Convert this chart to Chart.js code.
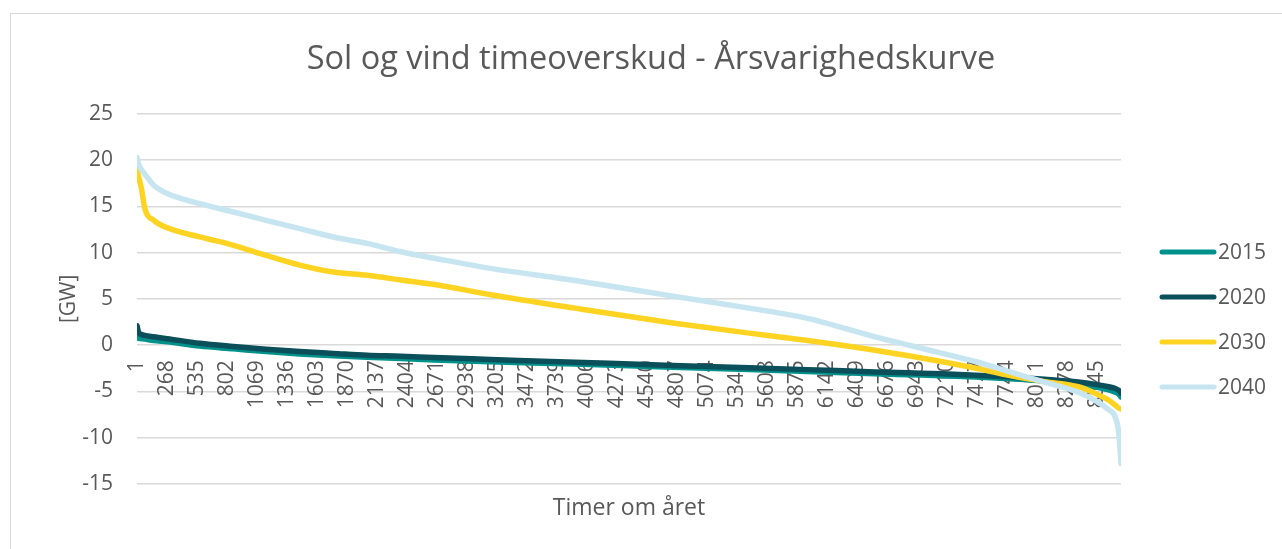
<!DOCTYPE html>
<html><head><meta charset="utf-8">
<script src="https://cdn.jsdelivr.net/npm/chart.js@4.4.1/dist/chart.umd.min.js"></script>
<style>
html,body{margin:0;padding:0;background:#fff;overflow:hidden;}
#wrap{position:relative;width:1282px;height:549px;overflow:hidden;}
#frame{position:absolute;left:10px;top:13px;width:1300px;height:600px;border:1px solid #D9D9D9;box-sizing:border-box;}
canvas{position:absolute;left:0;top:0;}
</style></head><body>
<div id="wrap"><div id="frame"></div><canvas id="c" width="1282" height="549"></canvas></div>
<script>
const chartTitle = 'Sol og vind timeoverskud - Årsvarighedskurve';
const seriesNames = ['2015', '2020', '2030', '2040'];
const seriesColors = ['#00918B', '#0B4F5B', '#FFD322', '#C6E5F1'];
const hours = [1, 15, 40, 70, 150, 270, 560, 860, 1150, 1450, 1750, 2050, 2350, 2650, 3150, 3900, 4770, 5450, 5970, 6570, 6870, 7170, 7470, 7770, 8080, 8380, 8560, 8650, 8710, 8740, 8760];
const gw2015 = [0.9, 0.75, 0.7, 0.65, 0.5, 0.35, -0.1, -0.4, -0.7, -0.95, -1.15, -1.3, -1.45, -1.6, -1.8, -2.05, -2.4, -2.65, -2.85, -3.1, -3.2, -3.3, -3.45, -3.65, -3.9, -4.25, -4.6, -4.85, -5.1, -5.3, -5.6];
const gw2020 = [2.1, 1.4, 1.15, 1.05, 0.9, 0.7, 0.2, -0.15, -0.45, -0.7, -0.9, -1.1, -1.2, -1.35, -1.55, -1.85, -2.2, -2.45, -2.65, -2.9, -3.0, -3.1, -3.25, -3.45, -3.7, -4.0, -4.3, -4.5, -4.7, -4.9, -5.2];
const gw2030 = [19.0, 18.2, 17.0, 14.8, 13.5, 12.7, 11.7, 10.8, 9.7, 8.65, 7.9, 7.55, 7.05, 6.55, 5.45, 4.0, 2.4, 1.3, 0.5, -0.55, -1.15, -1.8, -2.5, -3.3, -3.95, -4.5, -5.4, -5.95, -6.5, -6.8, -6.9];
const gw2040 = [20.3, 19.6, 19.0, 18.5, 17.3, 16.4, 15.3, 14.4, 13.5, 12.6, 11.7, 11.0, 10.1, 9.4, 8.3, 7.0, 5.3, 4.0, 2.9, 0.9, 0.0, -0.9, -1.8, -2.9, -4.0, -5.1, -6.2, -7.0, -7.8, -9.5, -12.8];
const xTickLabels = [1, 268, 535, 802, 1069, 1336, 1603, 1870, 2137, 2404, 2671, 2938, 3205, 3472, 3739, 4006, 4273, 4540, 4807, 5074, 5341, 5608, 5875, 6142, 6409, 6676, 6943, 7210, 7477, 7744, 8011, 8278, 8545];
const yTickLabels = [-15, -10, -5, 0, 5, 10, 15, 20, 25];

const allValues = [gw2015, gw2020, gw2030, gw2040];
const FONT = 'Open Sans';
const TXT = '#595959';

const titlePlugin = {
  id: 'centredTitle',
  afterDraw(chart) {
    const ctx = chart.ctx;
    ctx.save();
    ctx.fillStyle = TXT;
    ctx.font = '32.5px "' + FONT + '"';
    ctx.textAlign = 'center';
    ctx.textBaseline = 'middle';
    ctx.fillText(chartTitle, 651, 60);
    ctx.restore();
  }
};

const legendPlugin = {
  id: 'sideLegend',
  afterDraw(chart) {
    const ctx = chart.ctx;
    const top = 252, gap = 45;
    chart.data.datasets.forEach((ds, i) => {
      const y = top + i * gap;
      ctx.save();
      ctx.strokeStyle = ds.borderColor;
      ctx.lineWidth = 5;
      ctx.lineCap = 'round';
      ctx.beginPath();
      ctx.moveTo(1162, y);
      ctx.lineTo(1214, y);
      ctx.stroke();
      ctx.fillStyle = TXT;
      ctx.font = '21px "' + FONT + '"';
      ctx.textBaseline = 'middle';
      ctx.textAlign = 'left';
      ctx.fillText(ds.label, 1218, y + 1);
      ctx.restore();
    });
  }
};

new Chart(document.getElementById('c'), {
  type: 'line',
  data: {
    datasets: seriesNames.map((n, i) => ({
      label: n,
      data: hours.map((h, j) => ({ x: h, y: allValues[i][j] })),
      borderColor: seriesColors[i],
      backgroundColor: seriesColors[i],
      borderWidth: 5.5,
      pointRadius: 0,
      cubicInterpolationMode: 'monotone',
      borderCapStyle: 'round',
      borderJoinStyle: 'round',
      fill: false,
      order: 4 - i,
      xAxisID: 'x',
      yAxisID: 'y'
    }))
  },
  options: {
    responsive: false,
    animation: false,
    layout: { padding: { left: 50, right: 161, top: 114, bottom: 0 } },
    plugins: {
      legend: { display: false },
      tooltip: { enabled: false },
      title: { display: false }
    },
    scales: {
      x: {
        type: 'linear',
        min: 1, max: 8760,
        position: { y: 0 },
        grid: { display: false, drawTicks: false },
        border: { display: false },
        afterBuildTicks: s => { s.ticks = xTickLabels.map(v => ({ value: v })); },
        ticks: {
          autoSkip: false, minRotation: 90, maxRotation: 90, padding: 15,
          color: TXT, font: { family: FONT, size: 21 },
          callback: v => String(v)
        }
      },
      xt: {
        type: 'linear',
        position: 'bottom',
        grid: { display: false, drawTicks: false },
        border: { display: false },
        ticks: { display: false },
        title: {
          display: true, text: 'Timer om året', color: TXT,
          font: { family: FONT, size: 23, lineHeight: 1.2 },
          padding: { top: 10.4, bottom: 27.2 }
        }
      },
      y: {
        min: yTickLabels[0], max: yTickLabels[yTickLabels.length - 1],
        afterBuildTicks: s => { s.ticks = yTickLabels.map(v => ({ value: v })); },
        grid: { color: '#D9D9D9', lineWidth: 1.5, drawTicks: false },
        border: { display: false },
        ticks: { padding: 24, color: TXT, font: { family: FONT, size: 21 } },
        title: {
          display: true, text: '[GW]', color: TXT,
          font: { family: FONT, size: 21, lineHeight: 1.2 },
          padding: { top: 6, bottom: 0 }
        },
        afterFit: s => { s.width = 87; }
      }
    }
  },
  plugins: [titlePlugin, legendPlugin]
});
</script>
</body></html>
